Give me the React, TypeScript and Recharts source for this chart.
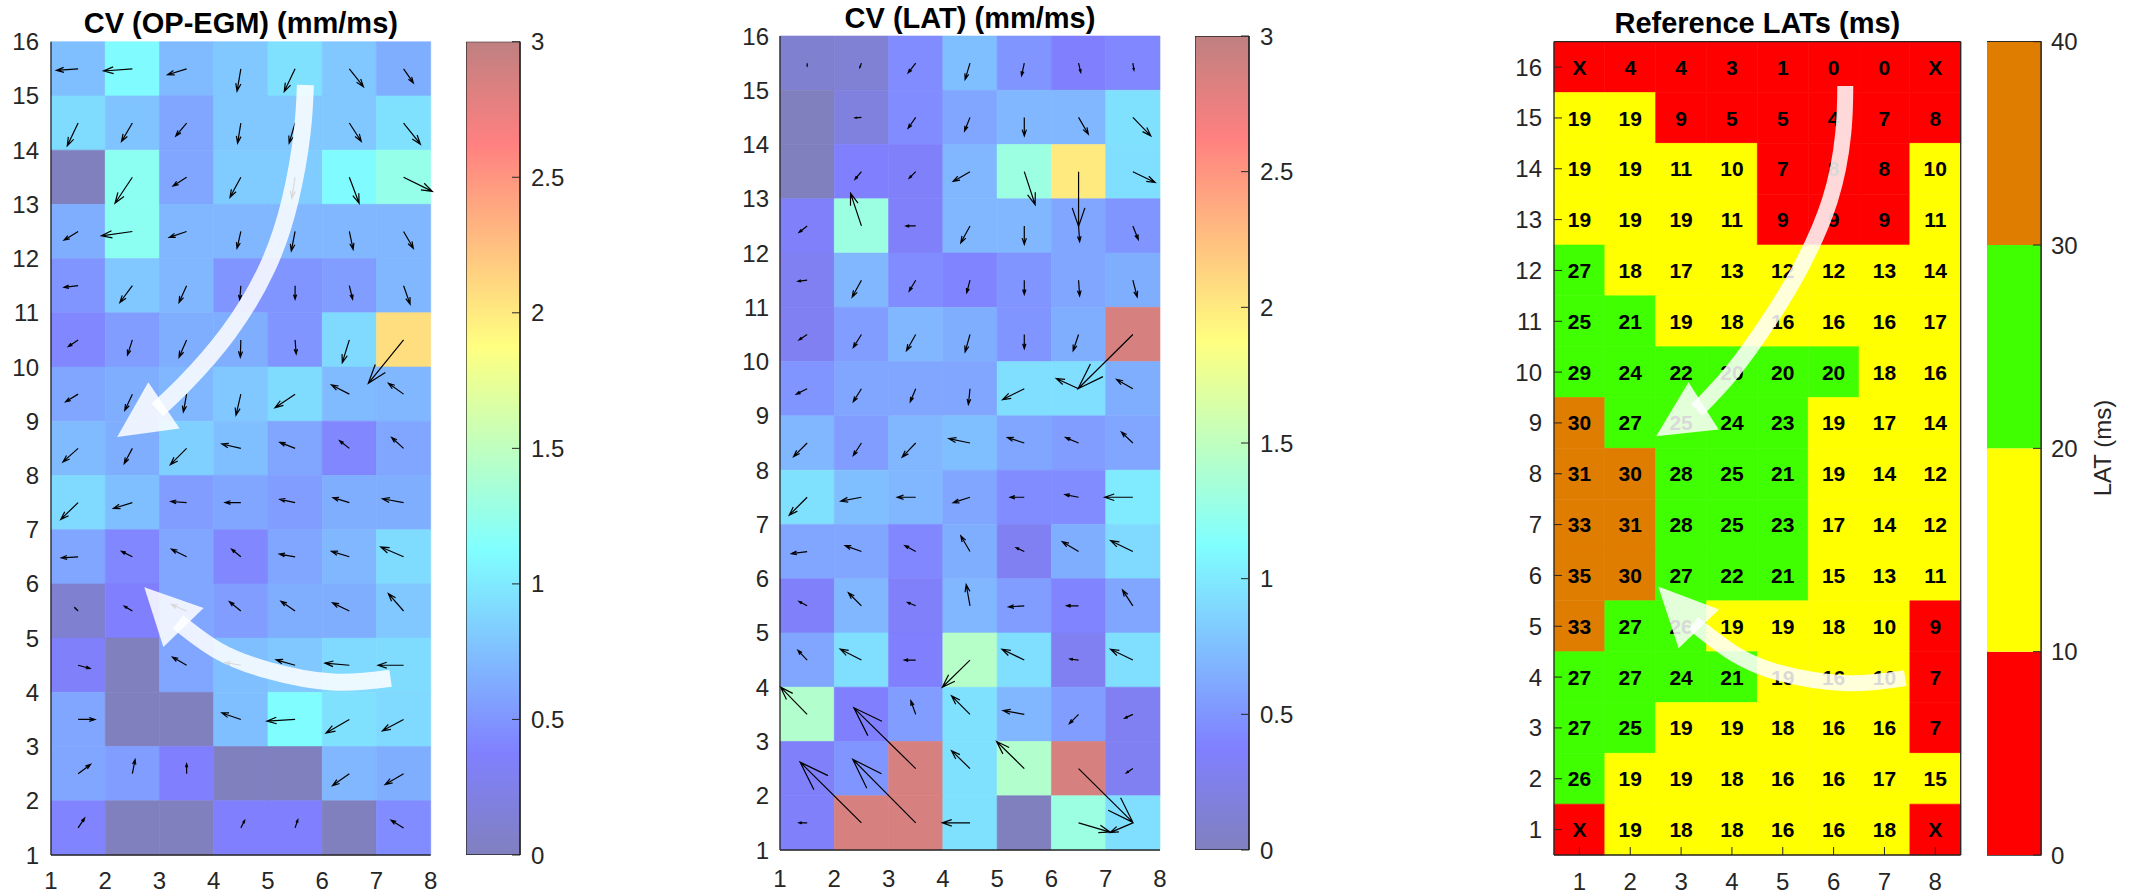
import React from 'react'
import {
  ScatterChart, Scatter, XAxis, YAxis, ReferenceArea, ReferenceLine,
  BarChart, Bar, Curve,
} from 'recharts'

// CV from OP-EGM (mm/ms), rows top (y=15..16) to bottom (y=1..2), columns x=1..7
const cvEgm = [
  [0.75, 1.1, 0.72, 0.8, 0.95, 0.8, 0.65],
  [0.92, 0.78, 0.6, 0.8, 0.8, 0.8, 0.95],
  [0.0, 1.2, 0.6, 0.82, 0.82, 1.1, 1.25],
  [0.65, 1.2, 0.7, 0.7, 0.7, 0.7, 0.7],
  [0.5, 0.8, 0.7, 0.5, 0.5, 0.55, 0.7],
  [0.42, 0.55, 0.65, 0.65, 0.5, 0.9, 2.07],
  [0.6, 0.65, 0.7, 0.8, 0.92, 0.72, 0.7],
  [0.72, 0.65, 0.85, 0.75, 0.6, 0.42, 0.6],
  [0.9, 0.75, 0.55, 0.6, 0.55, 0.65, 0.65],
  [0.6, 0.42, 0.6, 0.42, 0.6, 0.7, 0.92],
  [0.1, 0.37, 0.6, 0.55, 0.65, 0.65, 0.8],
  [0.35, 0.0, 0.6, 0.75, 0.8, 0.9, 0.92],
  [0.6, 0.0, 0.0, 0.75, 1.12, 0.95, 0.9],
  [0.6, 0.55, 0.37, 0.0, 0.0, 0.7, 0.65],
  [0.4, 0.0, 0.0, 0.37, 0.37, 0.0, 0.45],
]

// direction vectors (u, v) in grid units, same layout
const cvEgmArrows = [
  [[-0.40, -0.03], [-0.53, -0.04], [-0.35, -0.11], [-0.07, -0.41], [-0.20, -0.42], [0.26, -0.33], [0.18, -0.26]],
  [[-0.20, -0.42], [-0.20, -0.34], [-0.20, -0.24], [-0.06, -0.37], [-0.11, -0.37], [0.22, -0.34], [0.31, -0.39]],
  [null, [-0.32, -0.48], [-0.25, -0.16], [-0.20, -0.37], [-0.06, -0.39], [0.18, -0.48], [0.53, -0.26]],
  [[-0.26, -0.16], [-0.57, -0.08], [-0.32, -0.11], [-0.07, -0.31], [-0.07, -0.36], [0.07, -0.33], [0.18, -0.31]],
  [[-0.26, -0.03], [-0.23, -0.31], [-0.14, -0.31], [-0.02, -0.26], [0, -0.25], [0.06, -0.25], [0.12, -0.34]],
  [[-0.18, -0.12], [-0.09, -0.28], [-0.14, -0.32], [-0.01, -0.32], [0.02, -0.26], [-0.13, -0.42], [-0.65, -0.80]],
  [[-0.23, -0.14], [-0.14, -0.30], [-0.06, -0.33], [-0.09, -0.39], [-0.37, -0.25], [-0.33, 0.17], [-0.28, 0.20]],
  [[-0.28, -0.25], [-0.15, -0.28], [-0.30, -0.30], [-0.35, 0.08], [-0.28, 0.11], [-0.18, 0.14], [-0.22, 0.20]],
  [[-0.32, -0.31], [-0.35, -0.11], [-0.29, 0.02], [-0.29, 0], [-0.28, 0.06], [-0.30, 0.09], [-0.39, 0.07]],
  [[-0.31, -0.02], [-0.20, 0.10], [-0.28, 0.14], [-0.17, 0.14], [-0.29, 0.05], [-0.33, 0.10], [-0.42, 0.18]],
  [[-0.06, 0.06], [-0.15, 0.09], [-0.28, 0.12], [-0.21, 0.17], [-0.26, 0.18], [-0.31, 0.15], [-0.28, 0.32]],
  [[0.22, -0.06], null, [-0.26, 0.15], [-0.29, 0.05], [-0.35, 0.10], [-0.45, 0.04], [-0.47, 0]],
  [[0.31, 0], null, null, [-0.35, 0.12], [-0.52, -0.03], [-0.43, -0.25], [-0.39, -0.21]],
  [[0.23, 0.17], [0.05, 0.26], [0, 0.18], null, null, [-0.31, -0.22], [-0.34, -0.20]],
  [[0.12, 0.18], null, null, [0.07, 0.14], [0.05, 0.15], null, [-0.23, 0.14]],
]

// CV from LAT (mm/ms)
const cvLat = [
  [0.1, 0.12, 0.45, 0.75, 0.5, 0.38, 0.42],
  [0.0, 0.18, 0.45, 0.6, 0.7, 0.7, 0.95],
  [0.0, 0.38, 0.35, 0.7, 1.3, 2.0, 0.93],
  [0.35, 1.3, 0.35, 0.7, 0.7, 0.6, 0.5],
  [0.3, 0.7, 0.45, 0.4, 0.5, 0.6, 0.65],
  [0.3, 0.55, 0.7, 0.65, 0.5, 0.65, 2.86],
  [0.5, 0.6, 0.6, 0.6, 0.93, 0.93, 0.65],
  [0.7, 0.55, 0.7, 0.75, 0.6, 0.55, 0.6],
  [0.95, 0.75, 0.7, 0.6, 0.45, 0.45, 1.0],
  [0.6, 0.6, 0.42, 0.65, 0.3, 0.65, 0.9],
  [0.35, 0.7, 0.35, 0.7, 0.55, 0.4, 0.6],
  [0.6, 0.93, 0.38, 1.45, 0.93, 0.3, 0.93],
  [1.42, 0.38, 0.55, 0.95, 0.7, 0.55, 0.3],
  [0.35, 0.5, 2.86, 0.95, 1.42, 2.86, 0.3],
  [0.35, 2.86, 2.86, 0.95, 0.0, 1.3, 0.93],
]

const cvLatArrows = [
  [[0, -0.05], [-0.03, -0.08], [-0.14, -0.18], [-0.09, -0.30], [-0.05, -0.23], [0.04, -0.17], [0.02, -0.13]],
  [null, [-0.12, -0.01], [-0.14, -0.20], [-0.10, -0.25], [0, -0.34], [0.18, -0.31], [0.33, -0.34]],
  [null, [-0.12, -0.14], [-0.12, -0.12], [-0.31, -0.18], [0.20, -0.61], [0, -1.01], [0.41, -0.20]],
  [[-0.15, -0.12], [-0.20, 0.60], [-0.18, 0], [-0.17, -0.31], [0, -0.34], [0.02, -0.29], [0.10, -0.25]],
  [[-0.17, -0.02], [-0.17, -0.31], [-0.12, -0.20], [-0.06, -0.23], [0, -0.26], [0.02, -0.29], [0.08, -0.31]],
  [[-0.15, -0.10], [-0.15, -0.24], [-0.17, -0.30], [-0.09, -0.32], [0, -0.26], [-0.10, -0.30], [-1.01, -1.00]],
  [[-0.20, -0.10], [-0.15, -0.24], [-0.10, -0.24], [-0.03, -0.29], [-0.40, -0.20], [-0.41, 0.19], [-0.30, 0.17]],
  [[-0.25, -0.25], [-0.15, -0.23], [-0.25, -0.26], [-0.39, 0.08], [-0.31, 0.10], [-0.24, 0.10], [-0.21, 0.20]],
  [[-0.33, -0.33], [-0.38, -0.07], [-0.34, 0], [-0.31, -0.10], [-0.26, 0], [-0.25, 0.05], [-0.52, 0]],
  [[-0.29, -0.04], [-0.30, 0.11], [-0.20, 0.11], [-0.17, 0.29], [-0.15, 0.07], [-0.30, 0.18], [-0.41, 0.20]],
  [[-0.15, 0.08], [-0.24, 0.24], [-0.15, 0.06], [-0.07, 0.39], [-0.29, -0.02], [-0.22, 0], [-0.19, 0.29]],
  [[-0.17, 0.18], [-0.39, 0.20], [-0.21, 0], [-0.51, -0.50], [-0.41, 0.20], [-0.16, 0.02], [-0.41, 0.20]],
  [[-0.49, 0.50], null, [-0.09, 0.25], [-0.34, 0.34], [-0.39, 0.07], [-0.17, -0.17], [-0.15, -0.07]],
  [null, null, [-1.14, 1.12], [-0.34, 0.33], [-0.51, 0.50], [1.00, -0.99], [-0.12, -0.08]],
  [[-0.15, 0], [-1.13, 1.12], [-1.16, 1.17], [-0.51, 0], null, [0.58, -0.17], [-0.42, -0.18]],
]

// reference LATs (ms), rows y=16 (top) .. y=1, columns x=1..8, null = X
const latRef = [
  [null, 4, 4, 3, 1, 0, 0, null],
  [19, 19, 9, 5, 5, 4, 7, 8],
  [19, 19, 11, 10, 7, 8, 8, 10],
  [19, 19, 19, 11, 9, 9, 9, 11],
  [27, 18, 17, 13, 12, 12, 13, 14],
  [25, 21, 19, 18, 16, 16, 16, 17],
  [29, 24, 22, 20, 20, 20, 18, 16],
  [30, 27, 25, 24, 23, 19, 17, 14],
  [31, 30, 28, 25, 21, 19, 14, 12],
  [33, 31, 28, 25, 23, 17, 14, 12],
  [35, 30, 27, 22, 21, 15, 13, 11],
  [33, 27, 26, 19, 19, 18, 10, 9],
  [27, 27, 24, 21, 19, 16, 10, 7],
  [27, 25, 19, 19, 18, 16, 16, 7],
  [26, 19, 19, 18, 16, 16, 17, 15],
  [null, 19, 18, 18, 16, 16, 18, null],
]

// white flow arrows (path points in axis units, last point = arrow tip)
const egmFlowDown = [
  { x: 5.69, y: 15.2 }, { x: 5.63, y: 14.32 }, { x: 5.41, y: 13.08 }, { x: 4.99, y: 11.84 },
  { x: 4.27, y: 10.63 }, { x: 3.47, y: 9.7 }, { x: 2.96, y: 9.21 }, { x: 2.22, y: 8.71 },
]
const egmFlowLeft = [
  { x: 7.26, y: 4.26 }, { x: 6.2, y: 4.19 }, { x: 4.99, y: 4.41 }, { x: 4.06, y: 4.78 },
  { x: 3.34, y: 5.3 }, { x: 2.72, y: 5.94 },
]
const latFlowDown = [
  { x: 6.23, y: 15.63 }, { x: 6.19, y: 14.7 }, { x: 5.93, y: 13.39 }, { x: 5.35, y: 12.05 },
  { x: 4.72, y: 11.0 }, { x: 4.0, y: 10.0 }, { x: 3.31, y: 9.25 }, { x: 2.51, y: 8.74 },
]
const latFlowLeft = [
  { x: 7.41, y: 3.98 }, { x: 6.26, y: 3.88 }, { x: 4.95, y: 4.08 }, { x: 4.03, y: 4.47 },
  { x: 3.24, y: 5.06 }, { x: 2.55, y: 5.78 },
]

const cvTicksX = [1, 2, 3, 4, 5, 6, 7, 8]
const cvTicksY = [1, 2, 3, 4, 5, 6, 7, 8, 9, 10, 11, 12, 13, 14, 15, 16]
const latTicksX = [1, 2, 3, 4, 5, 6, 7, 8]
const latTicksY = [1, 2, 3, 4, 5, 6, 7, 8, 9, 10, 11, 12, 13, 14, 15, 16]
const cvBarTicks = [0, 0.5, 1, 1.5, 2, 2.5, 3]
const latBarTicks = [0, 10, 20, 30, 40]
const latBandColors = ['#FF0000', '#FFFF00', '#40FF00', '#DF7D00']

const FONT = '"Liberation Sans", Arial, Helvetica, sans-serif'
const AXIS = '#262626'
const tickStyle = { fontSize: 24, fill: AXIS }
const axisLineStyle = { stroke: AXIS, strokeWidth: 1.3 }
const CV_MAX = 3

// jet colormap blended 50% with white (semi-transparent look)
function jetWhite(v: number, vmax: number) {
  const t = Math.min(1, Math.max(0, v / vmax))
  const cl = (n: number) => Math.min(1, Math.max(0, n))
  const r = cl(Math.min(4 * t - 1.5, -4 * t + 4.5))
  const g = cl(Math.min(4 * t - 0.5, -4 * t + 3.5))
  const b = cl(Math.min(4 * t + 0.5, -4 * t + 2.5))
  const m = (c: number) => Math.round(255 * (0.5 + 0.5 * c))
  return `rgb(${m(r)},${m(g)},${m(b)})`
}

function latColor(v: number | null) {
  if (v === null) return latBandColors[0]
  const i = latBarTicks.findIndex((t, k) => k > 0 && v < t)
  return latBandColors[Math.max(0, (i === -1 ? latBandColors.length : i) - 1)]
}

const renderNothing = () => <g />

function QuiverShape(props: any) {
  const { x1, y1, x2, y2 } = props
  if (![x1, y1, x2, y2].every((n) => Number.isFinite(n))) return <g />
  const dx = x2 - x1
  const dy = y2 - y1
  const a = 0.34
  const b = 0.34
  const bx = x2 - a * dx
  const by = y2 - a * dy
  const px = -a * b * dy
  const py = a * b * dx
  return (
    <path
      d={`M${x1},${y1}L${x2},${y2}M${bx + px},${by + py}L${x2},${y2}L${bx - px},${by - py}`}
      stroke="#000" strokeWidth={1.2} fill="none"
    />
  )
}

function FlowArrow({ points, band, head }: any) {
  if (!points || points.length < 3) return null
  const body = points.slice(0, -1)
  const tip = points[points.length - 1]
  const end = body[body.length - 1]
  const dx = tip.x - end.x
  const dy = tip.y - end.y
  const len = Math.hypot(dx, dy) || 1
  const ux = dx / len
  const uy = dy / len
  const bx = end.x - ux * 8
  const by = end.y - uy * 8
  const px = -uy * head
  const py = ux * head
  return (
    <g>
      <Curve type="natural" points={body} stroke="#fff" strokeOpacity={0.85} strokeWidth={band} fill="none" strokeLinecap="butt" />
      <polygon points={`${tip.x},${tip.y} ${bx + px},${by + py} ${bx - px},${by - py}`} fill="#fff" fillOpacity={0.85} />
    </g>
  )
}

function CvPanel({ left, plotTop, plotBottom, rightPad, titleTop, title, values, arrows, flows, xTickMargin, yTickMargin }: any) {
  const nRows = values.length
  const cells = values.flatMap((row: number[], i: number) =>
    row.map((v, j) => ({ x: j + 1, y: nRows - i, v })))
  const quivers = arrows.flatMap((row: any[], i: number) =>
    row.map((uv, j) => (uv ? { x: j + 1.5, y: nRows - i + 0.5, u: uv[0], v: uv[1] } : null)))
    .filter(Boolean)
  const centers = cells.map((c: any) => ({ x: c.x + 0.5, y: c.y + 0.5 }))
  const W = 440
  const H = 895
  return (
    <div style={{ position: 'absolute', left, top: 0, width: W, height: H }}>
      <ScatterChart width={W} height={H} margin={{ top: plotTop, right: rightPad, bottom: H - plotBottom - 40, left: 0 }}>
        <XAxis type="number" dataKey="x" domain={[1, 8]} ticks={cvTicksX} allowDataOverflow interval={0}
          height={40} tickSize={0} tickLine={false} tickMargin={xTickMargin} axisLine={axisLineStyle} tick={tickStyle} />
        <YAxis type="number" dataKey="y" domain={[1, 16]} ticks={cvTicksY} allowDataOverflow interval={0}
          width={51} tickSize={0} tickLine={false} tickMargin={yTickMargin} axisLine={axisLineStyle} tick={tickStyle} />
        {cells.map((c: any) => (
          <ReferenceArea key={`c${c.x}-${c.y}`} x1={c.x} x2={c.x + 1} y1={c.y} y2={c.y + 1}
            fill={jetWhite(c.v, CV_MAX)} fillOpacity={1} stroke={jetWhite(c.v, CV_MAX)} strokeWidth={0.6} ifOverflow="visible" />
        ))}
        {quivers.map((q: any) => (
          <ReferenceLine key={`q${q.x}-${q.y}`} segment={[{ x: q.x, y: q.y }, { x: q.x + q.u, y: q.y + q.v }]}
            ifOverflow="visible" shape={QuiverShape} />
        ))}
        <Scatter data={centers} shape={renderNothing} isAnimationActive={false} />
        {flows.map((f: any, k: number) => (
          <Scatter key={`f${k}`} data={f} shape={renderNothing} isAnimationActive={false}
            line={(p: any) => <FlowArrow points={p.points} band={17} head={28} />} />
        ))}
      </ScatterChart>
      <div style={{
        position: 'absolute', left: 51, width: W - 51 - rightPad, top: titleTop, textAlign: 'center',
        fontWeight: 'bold', fontSize: 29, lineHeight: '29px', color: '#000', whiteSpace: 'nowrap',
      }}>{title}</div>
    </div>
  )
}

function CvColorBar({ left, plotTop, plotBottom, gradId }: any) {
  const stops = [0, 0.125, 0.375, 0.625, 0.875, 1]
  const data = [{ name: 'cv', top: cvBarTicks[cvBarTicks.length - 1] }]
  return (
    <div style={{ position: 'absolute', left, top: 0 }}>
      <BarChart width={110} height={895} data={data} barCategoryGap={0}
        margin={{ top: plotTop, right: 0, bottom: 895 - plotBottom, left: 0 }}>
        <defs>
          <linearGradient id={gradId} x1="0" y1="1" x2="0" y2="0">
            {stops.map((s) => <stop key={s} offset={s} stopColor={jetWhite(s * CV_MAX, CV_MAX)} />)}
          </linearGradient>
        </defs>
        <XAxis dataKey="name" hide />
        <YAxis orientation="right" type="number" width={56} domain={[0, CV_MAX]} ticks={cvBarTicks} interval={0}
          allowDataOverflow tickSize={-8} tickMargin={19} axisLine={axisLineStyle}
          tickLine={{ stroke: AXIS }} tick={tickStyle} />
        <Bar dataKey="top" fill={`url(#${gradId})`} stroke={AXIS} strokeWidth={1.3} isAnimationActive={false} />
      </BarChart>
    </div>
  )
}

function LatColorBar() {
  const row: any = { name: 'lat' }
  latBandColors.forEach((_, i) => { row[`b${i}`] = latBarTicks[i + 1] - latBarTicks[i] })
  return (
    <div style={{ position: 'absolute', left: 1987, top: 0 }}>
      <BarChart width={110} height={895} data={[row]} barCategoryGap={0}
        margin={{ top: 41.7, right: 0, bottom: 40, left: 0 }}>
        <XAxis dataKey="name" hide />
        <YAxis orientation="right" type="number" width={56} domain={[0, 40]} ticks={latBarTicks} interval={0}
          allowDataOverflow tickSize={-8} tickMargin={18} axisLine={axisLineStyle}
          tickLine={{ stroke: AXIS }} tick={tickStyle} />
        {latBandColors.map((c, i) => (
          <Bar key={c} dataKey={`b${i}`} stackId="lat" fill={c} isAnimationActive={false} />
        ))}
        <ReferenceArea y1={0} y2={40} fill="none" fillOpacity={0} stroke={AXIS} strokeWidth={1.3} ifOverflow="visible" />
      </BarChart>
    </div>
  )
}

function LatPanel() {
  const nRows = latRef.length
  const cells = latRef.flatMap((row, i) =>
    row.map((v, j) => ({ x: j + 1, y: nRows - i, v, label: v === null ? 'X' : String(v) })))
  const W = 480
  const H = 895
  return (
    <div style={{ position: 'absolute', left: 1490, top: 0, width: W, height: H }}>
      <ScatterChart width={W} height={H} margin={{ top: 31.7, right: 0, bottom: 0, left: 0 }}>
        <XAxis xAxisId="b" type="number" dataKey="x" domain={[0.5, 8.5]} ticks={latTicksX} allowDataOverflow interval={0}
          orientation="bottom" height={40} tickSize={-8} tickMargin={25.5} axisLine={axisLineStyle}
          tickLine={{ stroke: AXIS }} tick={tickStyle} />
        <XAxis xAxisId="t" type="number" dataKey="x" domain={[0.5, 8.5]} ticks={latTicksX} allowDataOverflow interval={0}
          orientation="top" height={10} tickSize={-8} tick={false} axisLine={axisLineStyle} tickLine={{ stroke: AXIS }} />
        <YAxis yAxisId="l" type="number" dataKey="y" domain={[0.5, 16.5]} ticks={latTicksY} allowDataOverflow interval={0}
          orientation="left" width={64} tickSize={-8} tickMargin={20} axisLine={axisLineStyle}
          tickLine={{ stroke: AXIS }} tick={tickStyle} />
        <YAxis yAxisId="r" type="number" dataKey="y" domain={[0.5, 16.5]} ticks={latTicksY} allowDataOverflow interval={0}
          orientation="right" width={9.3} tickSize={-8} tick={false} axisLine={axisLineStyle} tickLine={{ stroke: AXIS }} />
        {cells.map((c) => (
          <ReferenceArea key={`c${c.x}-${c.y}`} xAxisId="b" yAxisId="l" x1={c.x - 0.5} x2={c.x + 0.5} y1={c.y - 0.5} y2={c.y + 0.5}
            fill={latColor(c.v)} fillOpacity={1} stroke={latColor(c.v)} strokeWidth={0.6} ifOverflow="visible" />
        ))}
        <Scatter xAxisId="b" yAxisId="l" data={cells} isAnimationActive={false}
          shape={(p: any) => (
            <text x={p.cx} y={p.cy} dy="0.36em" textAnchor="middle" fontSize={21} fontWeight="bold" fill="#000">
              {p.payload.label}
            </text>
          )} />
        {[latFlowDown, latFlowLeft].map((f, k) => (
          <Scatter key={`f${k}`} xAxisId="t" yAxisId="r" data={f} shape={renderNothing} isAnimationActive={false}
            line={(p: any) => <FlowArrow points={p.points} band={16} head={28} />} />
        ))}
      </ScatterChart>
      <div style={{
        position: 'absolute', left: 64, width: W - 64 - 9.3, top: 8.8, textAlign: 'center',
        fontWeight: 'bold', fontSize: 29, lineHeight: '29px', color: '#000', whiteSpace: 'nowrap',
      }}>Reference LATs (ms)</div>
    </div>
  )
}

export default function App() {
  return (
    <div style={{ position: 'relative', width: 2139, height: 895, fontFamily: FONT, background: '#fff', overflow: 'hidden' }}>
      <style>{'body{margin:0}'}</style>
      <CvPanel left={0} plotTop={41.7} plotBottom={855} rightPad={9.3} titleTop={8.8}
        title="CV (OP-EGM) (mm/ms)" values={cvEgm} arrows={cvEgmArrows} flows={[egmFlowDown, egmFlowLeft]}
        xTickMargin={17} yTickMargin={12} />
      <CvColorBar left={466} plotTop={41.7} plotBottom={855} gradId="jetA" />
      <CvPanel left={729} plotTop={36} plotBottom={850} rightPad={9} titleTop={4}
        title="CV (LAT) (mm/ms)" values={cvLat} arrows={cvLatArrows} flows={[]}
        xTickMargin={20} yTickMargin={11} />
      <CvColorBar left={1195} plotTop={36} plotBottom={850} gradId="jetB" />
      <LatPanel />
      <LatColorBar />
      <div style={{
        position: 'absolute', left: 2103, top: 448, transform: 'translate(-50%, -50%) rotate(-90deg)',
        fontSize: 24, color: AXIS, whiteSpace: 'nowrap',
      }}>LAT (ms)</div>
    </div>
  )
}
